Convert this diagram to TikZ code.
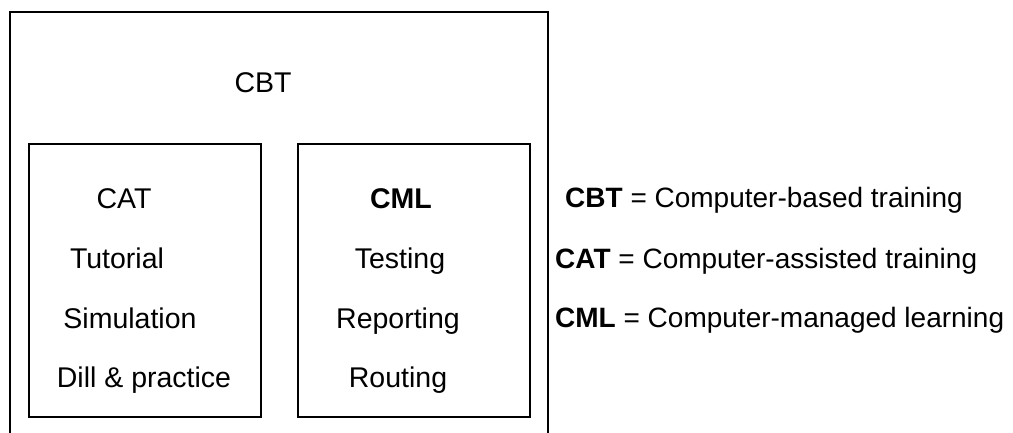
\documentclass[tikz,border=0pt]{standalone}
\usepackage{fontspec}
\setmainfont{Liberation Sans}
\begin{document}
\begin{tikzpicture}[x=1pt,y=-1pt,
  frame/.style={draw=black,line width=1.8pt},
  txt/.style={anchor=base,inner sep=0pt,font=\fontsize{28.5}{33}\selectfont},
  leg/.style={anchor=base west,inner sep=0pt,font=\fontsize{28}{33}\selectfont}]
\useasboundingbox (0,0) rectangle (1013,432);
% outer CBT frame (bottom edge outside the picture)
\coordinate (otl) at (10,12);
\coordinate (otr) at (548,12);
\coordinate (obl) at (10,434);
\coordinate (obr) at (548,434);
\draw[frame,line cap=rect] (obl) -- (otl) -- (otr) -- (obr);
% inner boxes
\node[frame,minimum width=232pt,minimum height=273pt,inner sep=0pt] (catbox) at (145,280.5) {};
\node[frame,minimum width=232pt,minimum height=273pt,inner sep=0pt] (cmlbox) at (414,280.5) {};
% labels
\node[txt] (cbt) at (263,92) {CBT};
\node[txt] (cat) at (124,208) {CAT};
\node[txt] (tut) at (117,268) {Tutorial};
\node[txt] (sim) at (130,328) {Simulation};
\node[txt] (dill) at (144,387) {Dill \& practice};
\node[txt] (cml) at (401,208) {\textbf{CML}};
\node[txt] (test) at (400,268) {Testing};
\node[txt] (rep) at (398,328) {Reporting};
\node[txt] (rout) at (398,387) {Routing};
% legend
\node[leg] (l1) at (565,207) {\textbf{CBT} = Computer-based training};
\node[leg] (l2) at (555,268) {\textbf{CAT} = Computer-assisted training};
\node[leg] (l3) at (555,327) {\textbf{CML} = Computer-managed learning};
\end{tikzpicture}
\end{document}
